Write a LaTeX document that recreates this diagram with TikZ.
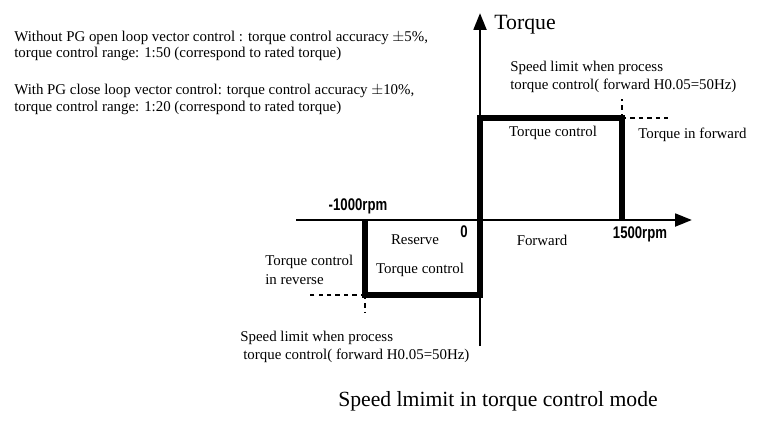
\documentclass[tikz,border=0pt]{standalone}
\usepackage{fontspec}
\setmainfont{Liberation Serif}
\newfontfamily\rpmfont[FakeStretch=0.78]{Liberation Sans}
\usetikzlibrary{arrows.meta, positioning}

\begin{document}
\begin{tikzpicture}[x=0.025cm, y=-0.025cm, font=\fontsize{10.6}{12}\selectfont,
    axisline/.style={line width=2pt, -{Triangle[length=12pt, width=9pt]}},
    curve/.style={line width=4.2pt},
    guide/.style={line width=0.9pt, dash pattern=on 3pt off 3pt},
    lbl/.style={anchor=west, inner sep=0pt},
    rpm/.style={font=\rpmfont\bfseries\fontsize{12}{14}\selectfont, inner sep=0pt}]
    \useasboundingbox (0,0) rectangle (780,427);
    % axes
    \coordinate (xs) at (296,220);
    \coordinate (xe) at (692,220);
    \coordinate (ys) at (480,346);
    \coordinate (ye) at (480,13);
    \draw[axisline] (xs) -- (xe);
    \draw[axisline] (ys) -- (ye);
    \node[lbl, font=\fontsize{15.5}{17}\selectfont] (torque) at (494,25) {Torque};
    % torque limit curve
    \coordinate (lo) at (365,220);
    \coordinate (lb) at (480,295);
    \coordinate (ut) at (622,118);
    \coordinate (hi) at (622,220);
    \draw[curve] (lo) |- (lb) |- (ut) -- (hi);
    % guides
    \coordinate (gr) at (672,118);
    \coordinate (gl) at (310,295);
    \coordinate (gu) at (622,99);
    \coordinate (gd) at (365,313);
    \draw[guide] (ut) -- (gr);
    \draw[guide] (ut) -- (gu);
    \draw[guide] (lo |- lb) -- (gl);
    \draw[guide] (lo |- lb) -- (gd);
    % axis labels
    \node[rpm] (neg) at (358,206) {-1000rpm};
    \node[rpm] (zero) at (464,232) {0};
    \node[rpm] (pos) at (640,234) {1500rpm};
    \node (rev) at (415,240) {Reserve};
    \node (tcl) at (420,270) {Torque control};
    \node (fwd) at (542,240) {Forward};
    \node (tcu) at (553,133) {Torque control};
    \node[lbl] (tif) at (638,135) {Torque in forward};
    \node[lbl] (tir1) at (265,262) {Torque control};
    \node[lbl] (tir2) at (265,280) {in reverse};
    % speed limits
    \node[lbl] (slu1) at (510,68) {Speed limit when process};
    \node[lbl] (slu2) at (510,86) {torque control( forward H0.05=50Hz)};
    \node[lbl] (sll1) at (240,338) {Speed limit when process};
    \node[lbl] (sll2) at (243,356) {torque control( forward H0.05=50Hz)};
    % notes
    \node[lbl] (na1) at (14,38) {Without PG open loop vector control : torque control accuracy $\pm$5\%,};
    \node[lbl] (na2) at (14,54) {torque control range: 1:50 (correspond to rated torque)};
    \node[lbl] (nb1) at (14,91) {With PG close loop vector control: torque control accuracy $\pm$10\%,};
    \node[lbl] (nb2) at (14,108) {torque control range: 1:20 (correspond to rated torque)};
    \node[font=\fontsize{15.4}{17}\selectfont] (title) at (498,401) {Speed lmimit in torque control mode};
\end{tikzpicture}
\end{document}
